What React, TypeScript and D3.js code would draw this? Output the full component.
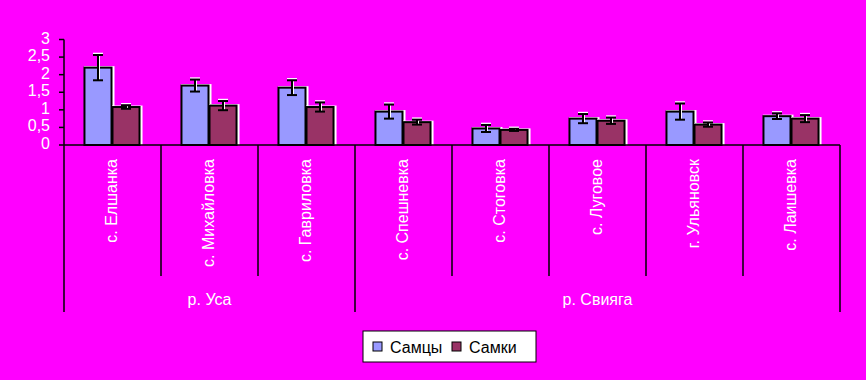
import React from "react";
import * as d3 from "d3";

const categories = [
  "с. Елшанка",
  "с. Михайловка",
  "с. Гавриловка",
  "с. Спешневка",
  "с. Стоговка",
  "с. Луговое",
  "г. Ульяновск",
  "с. Лаишевка",
];
const groupNames = ["р. Уса", "р. Свияга"];
const groupSizes = [3, 5];
const seriesNames = ["Самцы", "Самки"];
const males = [2.2, 1.69, 1.63, 0.95, 0.47, 0.75, 0.95, 0.82];
const malesErr = [0.36, 0.17, 0.21, 0.2, 0.1, 0.13, 0.23, 0.08];
const females = [1.08, 1.12, 1.08, 0.65, 0.43, 0.69, 0.58, 0.75];
const femalesErr = [0.05, 0.13, 0.13, 0.07, 0.03, 0.09, 0.06, 0.1];
const tickValues = [0, 0.5, 1, 1.5, 2, 2.5, 3];
const tickLabels = ["0", "0,5", "1", "1,5", "2", "2,5", "3"];

const W = 866;
const H = 380;
const BG = "#FF00FF";
const COLORS = ["#9999FF", "#993366"];
const FONT = "'Liberation Sans', Arial, sans-serif";

export default function App() {
  const left = 64;
  const right = 840;
  const axisY = 145;
  const x0 = d3.scaleBand<string>().domain(categories).range([left, right]).padding(0);
  const x1 = d3
    .scaleBand<string>()
    .domain(seriesNames)
    .range([0, x0.bandwidth()])
    .paddingInner(0)
    .paddingOuter(0.73);
  const y = d3.scaleLinear().domain([0, 3]).range([axisY, 39.5]);

  const series = [
    { name: seriesNames[0], values: males, errs: malesErr, color: COLORS[0] },
    { name: seriesNames[1], values: females, errs: femalesErr, color: COLORS[1] },
  ];

  const groupBounds: { name: string; x0: number; x1: number }[] = [];
  let idx = 0;
  groupNames.forEach((g, i) => {
    const start = x0(categories[idx])!;
    idx += groupSizes[i];
    const end = x0(categories[idx - 1])! + x0.bandwidth();
    groupBounds.push({ name: g, x0: start, x1: end });
  });
  const groupEdges = new Set<number>();
  groupBounds.forEach((g) => {
    groupEdges.add(Math.round(g.x0));
    groupEdges.add(Math.round(g.x1));
  });
  const catEdges: number[] = [];
  categories.forEach((c, i) => {
    if (i > 0) catEdges.push(x0(c)!);
  });

  return (
    <svg
      width={W}
      height={H}
      style={{ position: "absolute", left: 0, top: 0, display: "block" }}
      fontFamily={FONT}
    >
      <rect x={0} y={0} width={W} height={H} fill={BG} />

      {categories.map((c, i) => (
        <g key={c}>
          {series.map((s) => {
            const bx = x0(c)! + x1(s.name)!;
            const bw = x1.bandwidth();
            const top = y(s.values[i]);
            return (
              <g key={s.name}>
                <rect x={bx - 0.5} y={top - 1.5} width={bw + 2.5} height={axisY - top + 1.5} fill="#FFFFFF" />
                <rect
                  x={bx}
                  y={top}
                  width={bw - 1}
                  height={axisY - top}
                  fill={s.color}
                  stroke="#000"
                  strokeWidth={2}
                />
              </g>
            );
          })}
        </g>
      ))}

      {categories.map((c, i) => (
        <g key={"e" + c}>
          {series.map((s) => {
            const cx = x0(c)! + x1(s.name)! + x1.bandwidth() / 2 - 0.5;
            const yt = y(s.values[i] + s.errs[i]);
            const yb = y(s.values[i] - s.errs[i]);
            const cap = 5;
            return (
              <g key={s.name}>
                <line x1={cx - cap} x2={cx + cap} y1={yt - 1.5} y2={yt - 1.5} stroke="#fff" strokeWidth={1.5} />
                <line x1={cx + 1.5} x2={cx + 1.5} y1={yt} y2={yb} stroke="#fff" strokeWidth={1} />
                <line x1={cx} x2={cx} y1={yt} y2={yb} stroke="#000" strokeWidth={2} />
                <line x1={cx - cap} x2={cx + cap} y1={yt} y2={yt} stroke="#000" strokeWidth={2} />
                <line x1={cx - cap} x2={cx + cap} y1={yb} y2={yb} stroke="#000" strokeWidth={2} />
              </g>
            );
          })}
        </g>
      ))}

      <line x1={left} x2={left} y1={y(3)} y2={axisY} stroke="#000" strokeWidth={1.5} />
      {tickValues.map((t, i) => (
        <g key={t}>
          <line x1={left - 5} x2={left} y1={y(t)} y2={y(t)} stroke="#000" strokeWidth={1.5} />
          <text x={50} y={y(t) + 4} textAnchor="end" fontSize={16} fill="#fff">
            {tickLabels[i]}
          </text>
        </g>
      ))}

      <line x1={left} x2={right} y1={axisY} y2={axisY} stroke="#000" strokeWidth={1.5} />
      {catEdges.map((e) =>
        groupEdges.has(Math.round(e)) ? null : (
          <line key={e} x1={e} x2={e} y1={axisY} y2={276} stroke="#000" strokeWidth={1.5} />
        )
      )}
      {Array.from(groupEdges).map((e) => (
        <line key={"g" + e} x1={e} x2={e} y1={axisY} y2={312} stroke="#000" strokeWidth={1.5} />
      ))}

      {categories.map((c) => {
        const cx = x0(c)! + x0.bandwidth() / 2 - 1.5;
        return (
          <text
            key={"l" + c}
            transform={`translate(${cx},159) rotate(-90)`}
            textAnchor="end"
            dy="0.35em"
            fontSize={16}
            fill="#fff"
          >
            {c}
          </text>
        );
      })}

      {groupBounds.map((g) => (
        <text key={g.name} x={(g.x0 + g.x1) / 2} y={305} textAnchor="middle" fontSize={16} fill="#fff">
          {g.name}
        </text>
      ))}

      <g>
        <rect x={363} y={331} width={173} height={31} fill="#fff" stroke="#000" strokeWidth={1} />
        {series.map((s, i) => {
          const lx = [373, 452][i];
          return (
            <g key={"lg" + s.name}>
              <rect x={lx} y={342} width={9} height={9} fill={s.color} stroke="#000" strokeWidth={1} />
              <text x={lx + 17} y={352.5} fontSize={16} fill="#000">
                {s.name}
              </text>
            </g>
          );
        })}
      </g>
    </svg>
  );
}
